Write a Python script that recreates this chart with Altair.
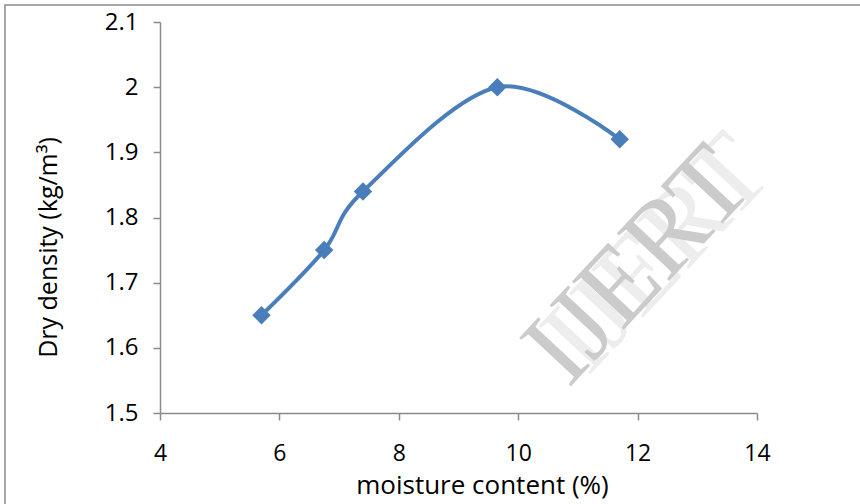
import altair as alt
import pandas as pd

moisture = [5.7, 6.75, 7.4, 9.65, 11.7]
density = [1.65, 1.75, 1.84, 2.0, 1.92]
x_ticks = [4, 6, 8, 10, 12, 14]
y_ticks = [1.5, 1.6, 1.7, 1.8, 1.9, 2.0, 2.1]

df = pd.DataFrame({"moisture": moisture, "density": density})

W, H = 597, 391
FONT = "Open Sans"
AX = "#8a8a8a"

x = alt.X("moisture:Q",
          scale=alt.Scale(domain=[4, 14], nice=False, zero=False),
          axis=alt.Axis(values=x_ticks, title="moisture content (%)", format="d",
                        grid=False, domainColor=AX, tickColor=AX, domainWidth=1.5, tickWidth=1.5,
                        tickSize=7, labelFontSize=23, labelColor="#000", labelFlush=False,
                        labelFont=FONT, labelPadding=22, titleFont=FONT,
                        titleFontSize=26, titleFontWeight="normal", titleColor="#000",
                        titleX=322, titleY=72, titleBaseline="middle", titleAlign="center"))
y = alt.Y("density:Q",
          scale=alt.Scale(domain=[1.5, 2.1], nice=False, zero=False),
          axis=alt.Axis(values=y_ticks, title="Dry density (kg/m³)",
                        grid=False, domainColor=AX, tickColor=AX, domainWidth=1.5, tickWidth=1.5,
                        tickSize=7, labelFontSize=24, labelColor="#000",
                        labelFont=FONT, labelPadding=15, titleFont=FONT,
                        titleFontSize=25, titleFontWeight="normal", titleColor="#000",
                        titleX=-112, titleY=225, titleBaseline="middle", titleAlign="center",
                        labelExpr="abs(datum.value - 2) < 0.001 ? '2' : format(datum.value, '.1f')"))

line = alt.Chart(df).mark_line(interpolate="cardinal", color="#4a7ebb", strokeWidth=4).encode(x=x, y=y)
pts = alt.Chart(df).mark_point(shape="diamond", filled=True, color="#4a7ebb", size=340, opacity=1).encode(x=x, y=y)

wm = pd.DataFrame({"moisture": [12.02], "density": [1.725]})
wx = alt.X("moisture:Q", scale=alt.Scale(domain=[4, 14]))
wy = alt.Y("density:Q", scale=alt.Scale(domain=[1.5, 2.1]))
wm_shadow = alt.Chart(wm).mark_text(text="IJERT", angle=313, font="Liberation Serif", fontSize=108,
                                    color="#ededed", dx=22, dy=6).encode(x=wx, y=wy)
wm_main = alt.Chart(wm).mark_text(text="IJERT", angle=313, font="Liberation Serif", fontSize=108,
                                  color="#cbcbcb").encode(x=wx, y=wy)

border = alt.Chart(pd.DataFrame({"a": [0]})).mark_rect(fill=None, stroke="#8c8c8c", strokeWidth=1.5).encode(
    x=alt.value(-155), x2=alt.value(720), y=alt.value(-17), y2=alt.value(520))

chart = alt.layer(border, wm_shadow, wm_main, line, pts).properties(
    width=W, height=H,
    padding={"left": 160, "top": 22, "right": 103, "bottom": 91},
    autosize=alt.AutoSizeParams(type="none"),
    background="white",
).configure_view(stroke=None)

chart.save("out.html", embed_options={"renderer": "svg", "actions": False})
